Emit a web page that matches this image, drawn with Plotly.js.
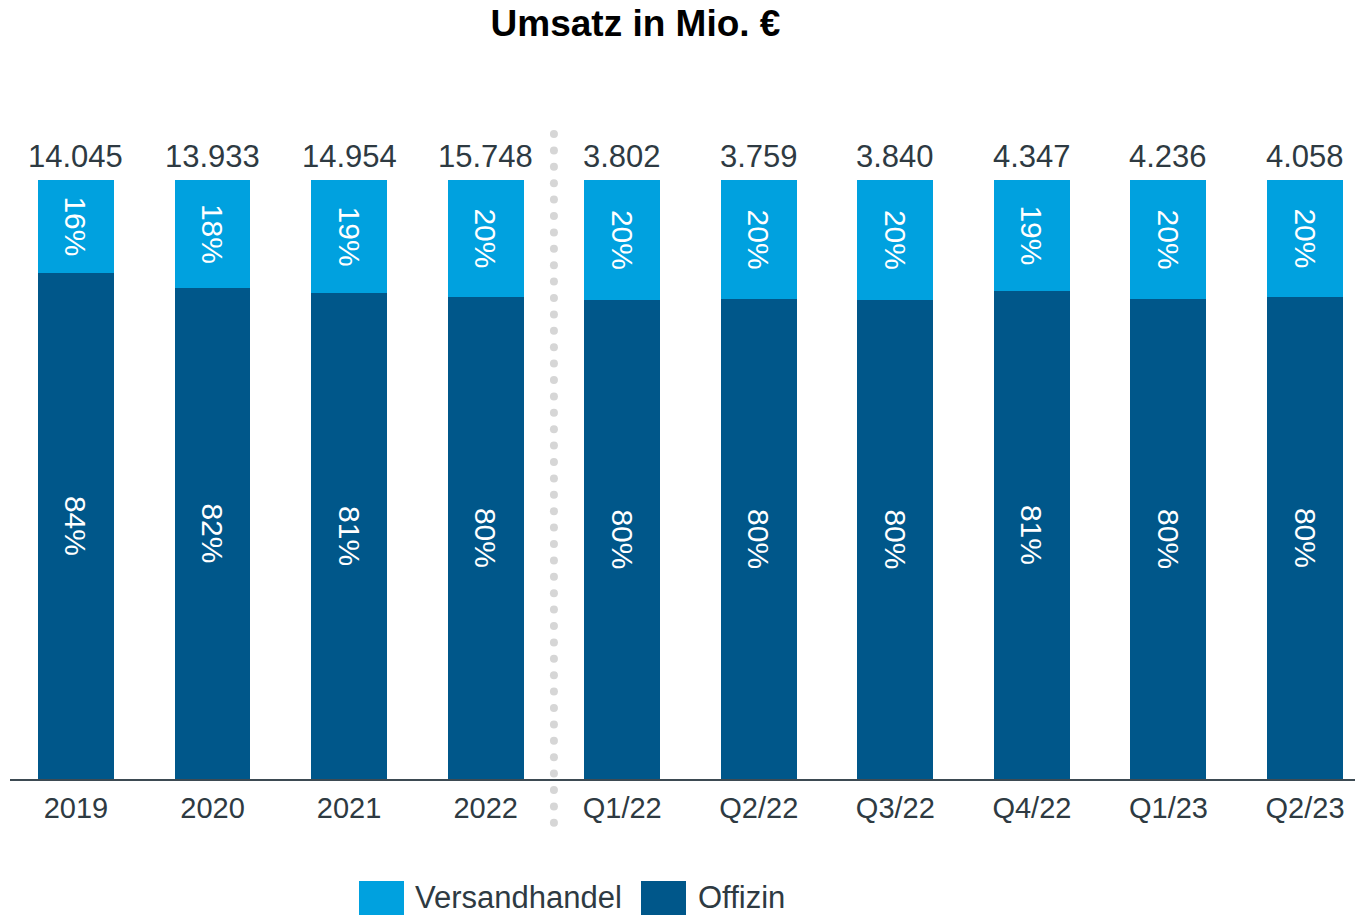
<!DOCTYPE html>
<html><head><meta charset="utf-8">
<script src="https://cdn.plot.ly/plotly-3.0.1.min.js"></script>
<style>html,body{margin:0;padding:0;background:#fff}#c{width:1355px;height:915px}</style>
</head><body><div id="c"></div>
<script>
const categories = ['2019','2020','2021','2022','Q1/22','Q2/22','Q3/22','Q4/22','Q1/23','Q2/23'];
const totals = ['14.045','13.933','14.954','15.748','3.802','3.759','3.840','4.347','4.236','4.058'];
const offizinShare = [84.5, 82.0, 81.1, 80.5, 80.0, 80.1, 80.0, 81.5, 80.1, 80.5];
const versandShare = offizinShare.map(v => 100 - v);
const offizinLabels = ['84%','82%','81%','80%','80%','80%','80%','81%','80%','80%'];
const versandLabels = ['16%','18%','19%','20%','20%','20%','20%','19%','20%','20%'];

const cDark = '#00578A', cLight = '#00A1DF', txt = '#2E3A42';
const font = 'Liberation Sans, Arial, sans-serif';

const common = {type:'bar', x: categories, width: 0.556, textposition:'inside', insidetextanchor:'middle',
  textangle: 90, constraintext:'none', textfont:{family:font, size:30, color:'#ffffff'}, hoverinfo:'skip', showlegend:false};

const traces = [
  Object.assign({}, common, {name:'Offizin', y: offizinShare, text: offizinLabels, marker:{color:cDark, line:{width:0}}}),
  Object.assign({}, common, {name:'Versandhandel', y: versandShare, text: versandLabels, marker:{color:cLight, line:{width:0}}})
];

const PLOT_TOP = 136, PLOT_BOTTOM = 779, PH = PLOT_BOTTOM - PLOT_TOP;
const px = v => (v-10)/1345, py = v => (PLOT_BOTTOM - v)/PH;

const annotations = categories.map((c,i) => ({x:i, y:100, xref:'x', yref:'y', text: totals[i], showarrow:false,
  yanchor:'bottom', yshift:4, font:{family:font, size:31, color:txt}}));
// legend
annotations.push({xref:'paper', yref:'paper', x:px(414), y:py(898), xanchor:'left', yanchor:'middle', yshift:1, borderpad:0, text:'Versandhandel', showarrow:false, font:{family:font, size:31, color:txt}});
annotations.push({xref:'paper', yref:'paper', x:px(697), y:py(898), xanchor:'left', yanchor:'middle', yshift:1, borderpad:0, text:'Offizin', showarrow:false, font:{family:font, size:31, color:txt}});

const shapes = [
  {type:'rect', xref:'paper', yref:'paper', x0:px(359), x1:px(404), y0:py(915), y1:py(881), fillcolor:cLight, line:{width:0}},
  {type:'rect', xref:'paper', yref:'paper', x0:px(641), x1:px(686), y0:py(915), y1:py(881), fillcolor:cDark, line:{width:0}}
];
// dotted separator between annual and quarterly values
for (let yy = 134; yy <= 834; yy += 16.4) {
  shapes.push({type:'circle', xref:'x', yref:'paper', x0:3.5 - 4/136.6, x1:3.5 + 4/136.6, y0:py(yy+4), y1:py(yy-4),
    fillcolor:'#D6D6D6', line:{width:0}, layer:'above'});
}

const layout = {
  width:1355, height:915, barmode:'stack', bargap:0,
  paper_bgcolor:'#fff', plot_bgcolor:'#fff',
  margin:{l:10, r:0, t:PLOT_TOP, b:915-PLOT_BOTTOM},
  title:{text:'<b>Umsatz in Mio. €</b>', x:0.469, xanchor:'center', y:0.975, yanchor:'middle', yref:'container',
    font:{family:font, size:37, color:'#000'}},
  xaxis:{type:'category', range:[-0.483, 9.366], showline:true, linecolor:'#3D4A52', linewidth:2, ticks:'', showgrid:false, zeroline:false,
    tickfont:{family:font, size:29, color:txt}, ticklabelstandoff:2, fixedrange:true},
  yaxis:{range:[0, 100*PH/599], visible:false, showgrid:false, zeroline:false, fixedrange:true},
  showlegend:false, annotations, shapes
};
Plotly.newPlot('c', traces, layout, {displayModeBar:false, staticPlot:true});
</script></body></html>
